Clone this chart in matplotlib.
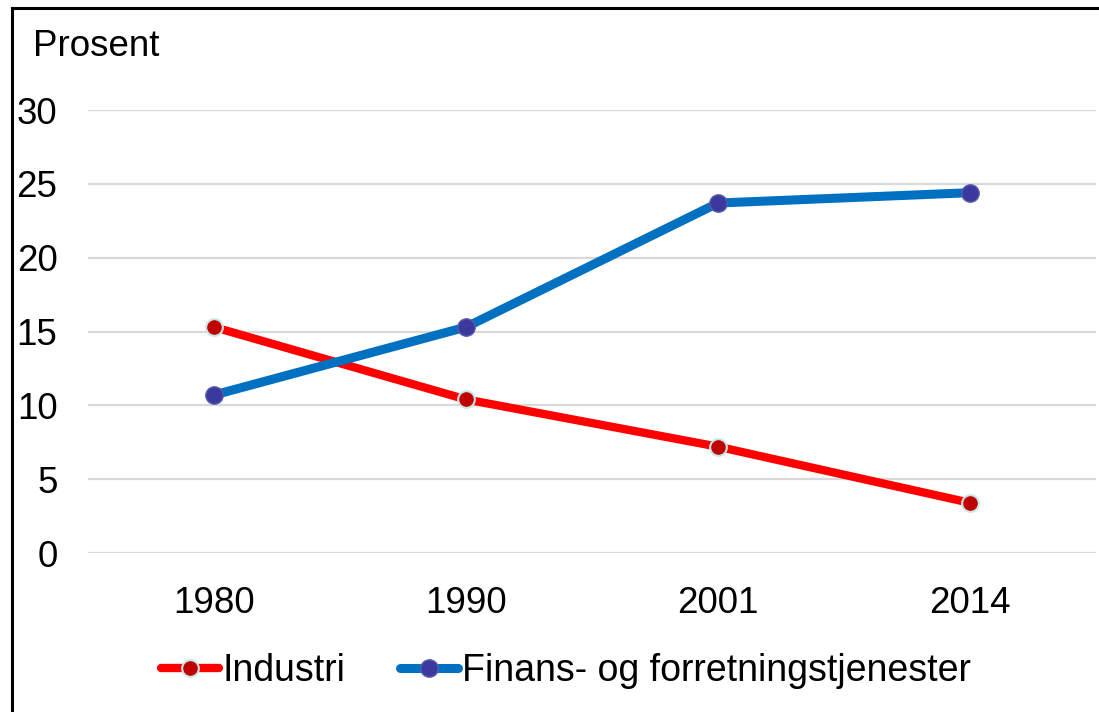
import matplotlib
matplotlib.use("Agg")
import matplotlib.pyplot as plt
from matplotlib.lines import Line2D

years = ['1980', '1990', '2001', '2014']
industri = [15.3, 10.4, 7.2, 3.4]
finans = [10.7, 15.3, 23.7, 24.4]
y_ticks = [0, 5, 10, 15, 20, 25, 30]

plt.rcParams['font.family'] = ['Liberation Sans', 'DejaVu Sans']

fig = plt.figure(figsize=(10.99, 7.12), dpi=100)
ax = fig.add_axes([0.0801, 0.2233, 0.9172, 0.6222])

x = range(len(years))
ax.plot(x, industri, color='#FF0000', lw=6, marker='o', markersize=12,
        markerfacecolor='#C00000', markeredgecolor='#C8E4E4', markeredgewidth=1.5,
        label='Industri', solid_capstyle='round', zorder=3)
ax.plot(x, finans, color='#0070C0', lw=6.5, marker='o', markersize=12.5,
        markerfacecolor='#3A3A9C', markeredgecolor='#5A5AB0', markeredgewidth=1,
        label='Finans- og forretningstjenester', solid_capstyle='round', zorder=3)

ax.set_xlim(-0.5, 3.5)
ax.set_ylim(0, 30)
ax.set_xticks(list(x))
ax.set_xticklabels(years)
ax.set_yticks(y_ticks)
ax.tick_params(axis='both', length=0, labelsize=26.5)
ax.tick_params(axis='y', pad=22)
ax.tick_params(axis='x', pad=24)
ax.grid(axis='y', color='#D9D9D9', lw=1.6)
ax.set_axisbelow(True)
for s in ax.spines.values():
    s.set_visible(False)

fig.text(0.030, 0.922, 'Prosent', fontsize=26.5, ha='left', va='baseline')

leg = fig.legend(loc='center', bbox_to_anchor=(0.515, 0.058), ncol=2, frameon=False,
                 fontsize=27, handlelength=1.55, handletextpad=0.1, columnspacing=1.45)

# partial frame (top and left edges)
fig.add_artist(Line2D([0.0105, 0.0105], [0, 0.989], transform=fig.transFigure, color='black', lw=2.2))
fig.add_artist(Line2D([0.0105, 1.0], [0.989, 0.989], transform=fig.transFigure, color='black', lw=2.2))

fig.savefig('out.png', dpi=100)
